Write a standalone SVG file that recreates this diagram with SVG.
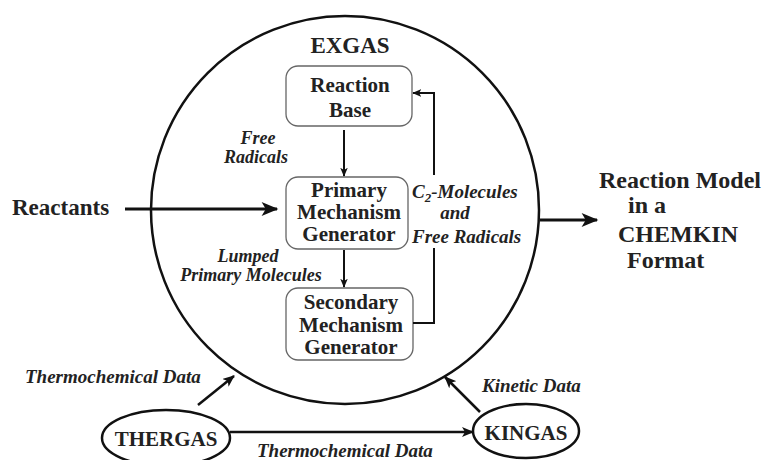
<svg xmlns="http://www.w3.org/2000/svg" width="766" height="460" viewBox="0 0 766 460">
<style>
.box{fill:#fff;stroke:#666;stroke-width:1.3;}
.ln{fill:none;stroke:#111;}
</style>
<defs>
<marker id="ah" viewBox="0 0 12 10" refX="11" refY="5" markerWidth="12" markerHeight="10" markerUnits="userSpaceOnUse" orient="auto">
<path d="M0,0 L12,5 L0,10 L3,5 z" fill="#111"/>
</marker>
<marker id="ahs" viewBox="0 0 12 10" refX="11" refY="5" markerWidth="9" markerHeight="8" markerUnits="userSpaceOnUse" orient="auto">
<path d="M0,0 L12,5 L0,10 L3,5 z" fill="#111"/>
</marker>
<marker id="ahb" viewBox="0 0 12 10" refX="11" refY="5" markerWidth="18" markerHeight="14" markerUnits="userSpaceOnUse" orient="auto">
<path d="M0,0 L12,5 L0,10 L3,5 z" fill="#111"/>
</marker>
</defs>

<g id="exgas">
<circle cx="345" cy="210" r="194" fill="none" stroke="#111" stroke-width="2.5"/>
<text x="350" y="53" font-family="Liberation Serif" font-weight="bold" fill="#222" font-size="23" text-anchor="middle">EXGAS</text>
</g>

<g id="reaction-base">
<rect class="box" x="286" y="66" width="126" height="60" rx="12"/>
<text x="350" y="92" font-family="Liberation Serif" font-weight="bold" fill="#222" font-size="21" text-anchor="middle">Reaction</text>
<text x="350" y="117" font-family="Liberation Serif" font-weight="bold" fill="#222" font-size="21" text-anchor="middle">Base</text>
</g>

<g id="primary">
<rect class="box" x="286" y="177" width="122" height="72" rx="12"/>
<text x="349" y="197" font-family="Liberation Serif" font-weight="bold" fill="#222" font-size="21" text-anchor="middle">Primary</text>
<text x="349" y="219" font-family="Liberation Serif" font-weight="bold" fill="#222" font-size="21" text-anchor="middle">Mechanism</text>
<text x="349" y="241" font-family="Liberation Serif" font-weight="bold" fill="#222" font-size="21" text-anchor="middle">Generator</text>
</g>

<g id="secondary">
<rect class="box" x="286" y="288" width="127" height="72" rx="12"/>
<text x="351" y="309" font-family="Liberation Serif" font-weight="bold" fill="#222" font-size="21" text-anchor="middle">Secondary</text>
<text x="351" y="332" font-family="Liberation Serif" font-weight="bold" fill="#222" font-size="21" text-anchor="middle">Mechanism</text>
<text x="351" y="354" font-family="Liberation Serif" font-weight="bold" fill="#222" font-size="21" text-anchor="middle">Generator</text>
</g>

<g id="reactants">
<text x="12" y="215" font-family="Liberation Serif" font-weight="bold" fill="#222" font-size="23">Reactants</text>
</g>

<g id="output">
<text x="599" y="188" font-family="Liberation Serif" font-weight="bold" fill="#222" font-size="24">Reaction Model</text>
<text x="628" y="213" font-family="Liberation Serif" font-weight="bold" fill="#222" font-size="24">in a</text>
<text x="618" y="242" font-family="Liberation Serif" font-weight="bold" fill="#222" font-size="24">CHEMKIN</text>
<text x="627" y="268" font-family="Liberation Serif" font-weight="bold" fill="#222" font-size="24">Format</text>
</g>

<g id="thergas">
<ellipse cx="166" cy="438" rx="64" ry="28" fill="none" stroke="#111" stroke-width="2.5"/>
<text x="166" y="446" font-family="Liberation Serif" font-weight="bold" fill="#222" font-size="21" text-anchor="middle">THERGAS</text>
</g>

<g id="kingas">
<ellipse cx="526" cy="431" rx="53" ry="27" fill="none" stroke="#111" stroke-width="2.5"/>
<text x="526" y="440" font-family="Liberation Serif" font-weight="bold" fill="#222" font-size="21" text-anchor="middle">KINGAS</text>
</g>

<g id="connectors">
<line class="ln" x1="344" y1="130" x2="344" y2="176" stroke-width="2" marker-end="url(#ahs)"/>
<line class="ln" x1="344" y1="250" x2="344" y2="287" stroke-width="2" marker-end="url(#ahs)"/>
<polyline class="ln" points="434,175 434,93 413,93" stroke-width="2" marker-end="url(#ahs)"/>
<polyline class="ln" points="434,248 434,323 413,323" stroke-width="2"/>
<line class="ln" x1="125" y1="209" x2="277" y2="209" stroke-width="3" marker-end="url(#ahb)"/>
<line class="ln" x1="540" y1="220" x2="597" y2="220" stroke-width="3" marker-end="url(#ahb)"/>
<line class="ln" x1="198" y1="405" x2="234" y2="376" stroke-width="2.5" marker-end="url(#ah)"/>
<line class="ln" x1="480" y1="412" x2="445" y2="377" stroke-width="2.5" marker-end="url(#ah)"/>
<line class="ln" x1="230" y1="432" x2="473" y2="432" stroke-width="2.5" marker-end="url(#ah)"/>
<text x="258" y="144" font-family="Liberation Serif" font-weight="bold" font-style="italic" fill="#222" font-size="18" text-anchor="middle">Free</text>
<text x="256" y="163" font-family="Liberation Serif" font-weight="bold" font-style="italic" fill="#222" font-size="18" text-anchor="middle">Radicals</text>
<text x="248" y="262" font-family="Liberation Serif" font-weight="bold" font-style="italic" fill="#222" font-size="18" text-anchor="middle">Lumped</text>
<text x="251" y="281" font-family="Liberation Serif" font-weight="bold" font-style="italic" fill="#222" font-size="18" text-anchor="middle">Primary Molecules</text>
<text x="412" y="198" font-family="Liberation Serif" font-weight="bold" font-style="italic" fill="#222" font-size="19">C<tspan font-size="13" dy="4">2</tspan><tspan dy="-4">-Molecules</tspan></text>
<text x="455" y="219" font-family="Liberation Serif" font-weight="bold" font-style="italic" fill="#222" font-size="19" text-anchor="middle">and</text>
<text x="412" y="243" font-family="Liberation Serif" font-weight="bold" font-style="italic" fill="#222" font-size="19">Free Radicals</text>
<text x="25" y="383" font-family="Liberation Serif" font-weight="bold" font-style="italic" fill="#222" font-size="19">Thermochemical Data</text>
<text x="257" y="457" font-family="Liberation Serif" font-weight="bold" font-style="italic" fill="#222" font-size="19">Thermochemical Data</text>
<text x="482" y="392" font-family="Liberation Serif" font-weight="bold" font-style="italic" fill="#222" font-size="19">Kinetic Data</text>
</g>
</svg>
